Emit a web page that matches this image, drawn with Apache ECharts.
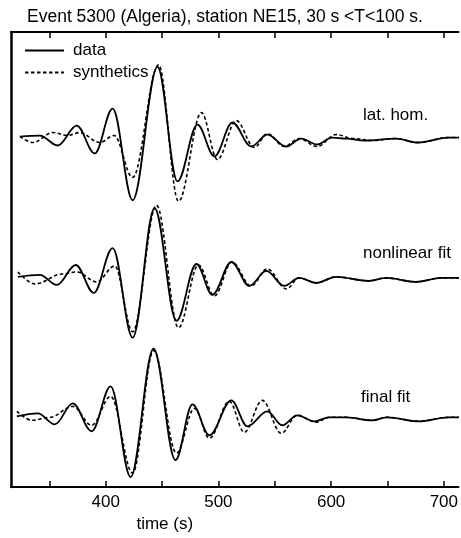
<!DOCTYPE html>
<html>
<head>
<meta charset="utf-8">
<script src="https://cdn.jsdelivr.net/npm/echarts@6/dist/echarts.min.js"></script>
<style>
html,body{margin:0;padding:0;background:#fff;}
#chart{width:461px;height:538px;}
</style>
</head>
<body>
<div id="chart"></div>
<script>
// ---- data: [time (s), amplitude] (extrema of each trace) ----
const latHomData = [[323.9,0.1],[341.6,0.2],[357.5,-0.8],[374.3,1.2],[390.3,-1.6],[406.2,2.9],[423.9,-6.3],[446.0,7.1],[463.7,-4.4],[481.4,1.3],[496.5,-1.9],[512.4,1.5],[529.2,-0.9],[543.4,0.3],[560.2,-0.9],[573.5,-0.1],[587.6,-0.7],[600.9,0.0],[613.0,-0.1],[630.0,-0.3],[657.5,-0.1],[677.0,-0.5],[704.0,0.0],[713.3,0.0]];
const latHomSynth = [[323.9,0.1],[335.4,-0.5],[353.1,0.5],[366.0,0.2],[377.0,0.5],[394.7,-0.5],[407.5,0.2],[423.9,-4.0],[446.9,7.3],[464.6,-6.4],[485.0,2.5],[499.1,-2.2],[515.9,1.7],[531.9,-1.0],[543.4,0.4],[558.4,-0.9],[571.7,-0.1],[587.6,-0.9],[604.4,0.3],[620.0,-0.1],[636.0,-0.3],[657.5,-0.1],[677.0,-0.5],[704.0,0.0],[713.3,0.0]];
const nonlinData = [[322.1,0.0],[341.6,0.2],[356.6,-0.8],[373.5,1.2],[389.4,-1.6],[406.2,2.9],[423.9,-6.1],[443.4,6.9],[462.8,-4.4],[480.5,1.3],[494.7,-1.8],[511.5,1.5],[527.4,-0.9],[542.5,0.6],[558.4,-0.9],[571.7,-0.1],[586.7,-0.6],[604.4,0.0],[633.6,-0.4],[648.7,-0.1],[675.2,-0.5],[698.2,-0.1],[713.3,-0.1]];
const nonlinSynth = [[322.1,0.5],[337.2,-0.7],[361.9,0.3],[374.3,0.5],[392.0,-0.5],[408.0,1.1],[423.9,-5.5],[445.1,7.2],[464.6,-5.1],[482.3,1.2],[496.5,-1.9],[512.0,1.5],[529.0,-0.9],[543.4,0.8],[560.2,-1.2],[571.7,-0.1],[586.7,-0.6],[604.4,0.0],[633.6,-0.4],[648.7,-0.1],[675.2,-0.5],[698.2,-0.1],[713.3,-0.1]];
const finalData = [[321.2,0.0],[339.8,0.3],[354.9,-0.8],[370.8,1.3],[387.6,-1.5],[404.4,3.0],[422.1,-6.1],[442.5,6.8],[461.9,-4.4],[477.0,1.2],[492.0,-1.9],[511.5,1.6],[525.7,-1.0],[543.4,0.5],[556.6,-0.9],[569.9,0.1],[585.0,-0.5],[598.2,-0.1],[613.3,-0.1],[636.3,-0.4],[649.6,-0.1],[677.9,-0.5],[704.4,-0.1],[713.3,-0.1]];
const finalSynth = [[321.2,0.5],[334.5,-0.4],[350.4,-0.1],[370.8,1.0],[387.6,-0.9],[404.4,2.0],[423.9,-5.7],[442.5,6.6],[462.8,-3.7],[478.8,0.8],[492.0,-2.2],[509.7,1.5],[523.0,-1.6],[538.9,1.6],[555.8,-1.7],[569.9,0.1],[586.7,-0.6],[598.2,-0.1],[613.3,-0.1],[636.3,-0.4],[649.6,-0.1],[677.9,-0.5],[704.4,-0.1],[713.3,-0.1]];

const traceNames = ['lat. hom.', 'nonlinear fit', 'final fit'];
const traceOffsets = [35.1, 21.1, 7.1];
const majorTicks = [400, 500, 600, 700];
const allTicks = [350, 400, 450, 500, 550, 600, 650, 700];
const titleText = 'Event 5300 (Algeria), station NE15, 30 s <T<100 s.';
const xName = 'time (s)';

const FONT = '"Liberation Sans", Arial, Helvetica, sans-serif';
const pairs = [[latHomData, latHomSynth], [nonlinData, nonlinSynth], [finalData, finalSynth]];
const series = [];
pairs.forEach(function (p, i) {
  const off = traceOffsets[i];
  series.push({
    name: 'data', type: 'line', symbol: 'none', smooth: 0.36, smoothMonotone: 'x',
    data: p[0].map(function (d) { return [d[0], d[1] + off]; }),
    lineStyle: { color: '#000', width: 1.8, type: 'solid' }, itemStyle: { color: '#000' },
    silent: true, animation: false, clip: true
  });
  series.push({
    name: 'synthetics', type: 'line', symbol: 'none', smooth: 0.36, smoothMonotone: 'x',
    data: p[1].map(function (d) { return [d[0], d[1] + off]; }),
    lineStyle: { color: '#000', width: 1.6, type: [3.5, 2.5] }, itemStyle: { color: '#000' },
    silent: true, animation: false, clip: true
  });
});

const chart = echarts.init(document.getElementById('chart'), null, { renderer: 'canvas' });
const axisCommon = {
  type: 'value', min: 316, max: 713,
  axisLine: { show: true, lineStyle: { color: '#000', width: 2 } },
  axisTick: { show: true, inside: true, length: 6, customValues: allTicks, lineStyle: { color: '#000', width: 1.5 } },
  splitLine: { show: false }
};
chart.setOption({
  animation: false,
  backgroundColor: '#fff',
  title: { text: titleText, left: 22, top: 3, textStyle: { fontFamily: FONT, fontSize: 17.5, fontWeight: 'normal', color: '#000' } },
  legend: {
    orient: 'vertical', left: 24, top: 42, padding: 0, itemWidth: 39, itemHeight: 17, itemGap: 5,
    data: ['data', 'synthetics'],
    itemStyle: { color: 'rgba(0,0,0,0)', borderWidth: 0, opacity: 0 },
    textStyle: { fontFamily: FONT, fontSize: 17, color: '#000', padding: [0, 0, 0, 4], lineHeight: 17 }
  },
  grid: { left: 11, right: 1, top: 32, bottom: 49, containLabel: false },
  xAxis: [
    Object.assign({}, axisCommon, {
      position: 'bottom',
      axisLabel: { show: true, customValues: majorTicks, margin: 7, fontFamily: FONT, fontSize: 17, color: '#000' },
      name: xName, nameLocation: 'middle', nameGap: 29,
      nameTextStyle: { fontFamily: FONT, fontSize: 17, color: '#000', padding: [0, 140, 0, 0] }
    }),
    Object.assign({}, axisCommon, { position: 'top', axisLabel: { show: false } })
  ],
  yAxis: {
    type: 'value', min: 0, max: 45.7,
    axisLine: { show: true, lineStyle: { color: '#000', width: 2.5 } },
    axisTick: { show: false }, axisLabel: { show: false }, splitLine: { show: false }
  },
  graphic: [
    { type: 'text', left: 363, top: 107, style: { text: traceNames[0], font: '17px ' + FONT, fill: '#000' } },
    { type: 'text', left: 363, top: 245, style: { text: traceNames[1], font: '17px ' + FONT, fill: '#000' } },
    { type: 'text', left: 361, top: 389, style: { text: traceNames[2], font: '17px ' + FONT, fill: '#000' } }
  ],
  series: series
});
</script>
</body>
</html>
